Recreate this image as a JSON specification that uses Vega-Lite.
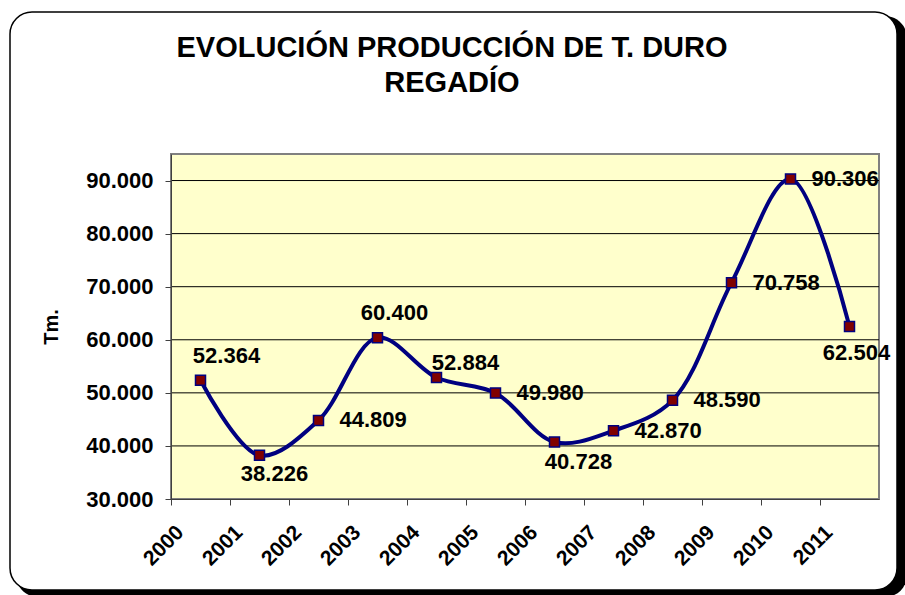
{
  "$schema": "https://vega.github.io/schema/vega-lite/v6.json",
  "width": 708,
  "height": 345,
  "autosize": {"type": "none"},
  "padding": {"left": 171, "top": 154, "right": 26, "bottom": 96},
  "background": "white",
  "title": {
    "text": ["EVOLUCIÓN PRODUCCIÓN DE T. DURO", "REGADÍO"],
    "font": "Liberation Sans",
    "fontSize": 29,
    "fontWeight": "bold",
    "lineHeight": 35,
    "color": "black",
    "anchor": "middle",
    "frame": "group",
    "baseline": "bottom",
    "dx": -73,
    "offset": -116
  },
  "config": {
    "locale": {"number": {"decimal": ",", "thousands": ".", "grouping": [3], "currency": ["", " €"]}},
    "view": {"stroke": null, "fill": null}
  },
  "data": {"values": [
    {"year": "2000", "t": 52364},
    {"year": "2001", "t": 38226},
    {"year": "2002", "t": 44809},
    {"year": "2003", "t": 60400},
    {"year": "2004", "t": 52884},
    {"year": "2005", "t": 49980},
    {"year": "2006", "t": 40728},
    {"year": "2007", "t": 42870},
    {"year": "2008", "t": 48590},
    {"year": "2009", "t": 70758},
    {"year": "2010", "t": 90306},
    {"year": "2011", "t": 62504}
  ]},
  "layer": [
    {
      "data": {"values": [{}]},
      "mark": {"type": "rect", "fill": "black", "cornerRadius": 22},
      "encoding": {
        "x": {"value": -155}, "x2": {"value": 736},
        "y": {"value": -138}, "y2": {"value": 443}
      }
    },
    {
      "data": {"values": [{}]},
      "mark": {"type": "rect", "fill": "white", "stroke": "black", "strokeWidth": 1.5, "cornerRadius": 22},
      "encoding": {
        "x": {"value": -161}, "x2": {"value": 726},
        "y": {"value": -142}, "y2": {"value": 436}
      }
    },
    {
      "data": {"values": [{}]},
      "mark": {"type": "rect", "fill": "#FFFFCC", "stroke": "#808080", "strokeWidth": 2},
      "encoding": {
        "x": {"value": 0}, "x2": {"value": 708},
        "y": {"value": 0}, "y2": {"value": 345}
      }
    },
    {
      "data": {"values": [{"g": 40000}, {"g": 50000}, {"g": 60000}, {"g": 70000}, {"g": 80000}, {"g": 90000}]},
      "mark": {"type": "rule", "color": "black", "strokeWidth": 1},
      "encoding": {
        "y": {"field": "g", "type": "quantitative", "scale": {"domain": [30000, 95000], "nice": false, "zero": false}}
      }
    },
    {
      "mark": {"type": "line", "color": "#000080", "strokeWidth": 4, "interpolate": "catmull-rom"},
      "encoding": {
        "x": {
          "field": "year", "type": "ordinal",
          "scale": {"type": "band", "paddingInner": 0, "paddingOuter": 0},
          "axis": {
            "title": null,
            "bandPosition": 0,
            "zindex": 1,
            "labelAngle": -45,
            "labelAlign": "right",
            "labelBaseline": "middle",
            "labelFont": "Liberation Sans",
            "labelFontWeight": "bold",
            "labelFontSize": 21,
            "labelColor": "black",
            "labelPadding": 24,
            "labelOffset": -20,
            "tickSize": 6,
            "tickColor": "#404040",
            "domainColor": "#404040",
            "grid": false
          }
        },
        "y": {
          "field": "t", "type": "quantitative",
          "scale": {"domain": [30000, 95000], "nice": false, "zero": false},
          "axis": {
            "title": "Tm.",
            "titleFont": "Liberation Sans",
            "titleFontWeight": "bold",
            "titleFontSize": 20,
            "titleColor": "black",
            "titlePadding": 24,
            "values": [30000, 40000, 50000, 60000, 70000, 80000, 90000],
            "format": ",.0f",
            "zindex": 1,
            "labelFont": "Liberation Sans",
            "labelFontWeight": "bold",
            "labelFontSize": 22,
            "labelColor": "black",
            "labelPadding": 12,
            "tickSize": 6,
            "tickColor": "#404040",
            "domainColor": "#404040",
            "grid": false
          }
        }
      }
    },
    {
      "mark": {"type": "point", "shape": "square", "filled": true, "fill": "#800000", "stroke": "#000080", "strokeWidth": 1.5, "size": 100, "opacity": 1},
      "encoding": {
        "x": {"field": "year", "type": "ordinal"},
        "y": {"field": "t", "type": "quantitative"}
      }
    },
    {
      "transform": [{"filter": {"field": "year", "oneOf": ["2002", "2005", "2007", "2008", "2009", "2010"]}}],
      "mark": {"type": "text", "align": "left", "baseline": "middle", "dx": 21, "dy": 0, "font": "Liberation Sans", "fontWeight": "bold", "fontSize": 22, "color": "black"},
      "encoding": {
        "x": {"field": "year", "type": "ordinal"},
        "y": {"field": "t", "type": "quantitative"},
        "text": {"field": "t", "type": "quantitative", "format": ",.0f"}
      }
    },
    {
      "transform": [{"filter": {"field": "year", "equal": "2000"}}],
      "mark": {"type": "text", "align": "center", "baseline": "middle", "dx": 26, "dy": -24, "font": "Liberation Sans", "fontWeight": "bold", "fontSize": 22, "color": "black"},
      "encoding": {
        "x": {"field": "year", "type": "ordinal"},
        "y": {"field": "t", "type": "quantitative"},
        "text": {"field": "t", "type": "quantitative", "format": ",.0f"}
      }
    },
    {
      "transform": [{"filter": {"field": "year", "equal": "2003"}}],
      "mark": {"type": "text", "align": "center", "baseline": "middle", "dx": 17, "dy": -25, "font": "Liberation Sans", "fontWeight": "bold", "fontSize": 22, "color": "black"},
      "encoding": {
        "x": {"field": "year", "type": "ordinal"},
        "y": {"field": "t", "type": "quantitative"},
        "text": {"field": "t", "type": "quantitative", "format": ",.0f"}
      }
    },
    {
      "transform": [{"filter": {"field": "year", "equal": "2004"}}],
      "mark": {"type": "text", "align": "center", "baseline": "middle", "dx": 29, "dy": -15, "font": "Liberation Sans", "fontWeight": "bold", "fontSize": 22, "color": "black"},
      "encoding": {
        "x": {"field": "year", "type": "ordinal"},
        "y": {"field": "t", "type": "quantitative"},
        "text": {"field": "t", "type": "quantitative", "format": ",.0f"}
      }
    },
    {
      "transform": [{"filter": {"field": "year", "equal": "2001"}}],
      "mark": {"type": "text", "align": "center", "baseline": "middle", "dx": 15, "dy": 19, "font": "Liberation Sans", "fontWeight": "bold", "fontSize": 22, "color": "black"},
      "encoding": {
        "x": {"field": "year", "type": "ordinal"},
        "y": {"field": "t", "type": "quantitative"},
        "text": {"field": "t", "type": "quantitative", "format": ",.0f"}
      }
    },
    {
      "transform": [{"filter": {"field": "year", "equal": "2006"}}],
      "mark": {"type": "text", "align": "center", "baseline": "middle", "dx": 24, "dy": 20, "font": "Liberation Sans", "fontWeight": "bold", "fontSize": 22, "color": "black"},
      "encoding": {
        "x": {"field": "year", "type": "ordinal"},
        "y": {"field": "t", "type": "quantitative"},
        "text": {"field": "t", "type": "quantitative", "format": ",.0f"}
      }
    },
    {
      "transform": [{"filter": {"field": "year", "equal": "2011"}}],
      "mark": {"type": "text", "align": "center", "baseline": "middle", "dx": 7, "dy": 27, "font": "Liberation Sans", "fontWeight": "bold", "fontSize": 22, "color": "black"},
      "encoding": {
        "x": {"field": "year", "type": "ordinal"},
        "y": {"field": "t", "type": "quantitative"},
        "text": {"field": "t", "type": "quantitative", "format": ",.0f"}
      }
    }
  ]
}
